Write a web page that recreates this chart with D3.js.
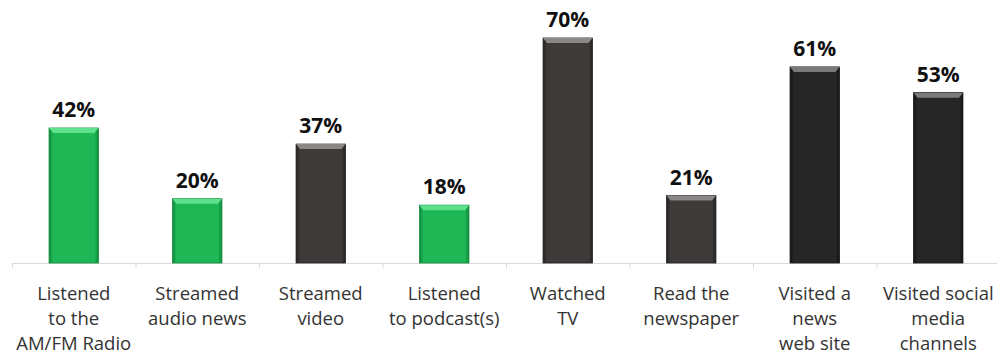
<!DOCTYPE html>
<html>
<head>
<meta charset="utf-8">
<script src="https://cdn.jsdelivr.net/npm/d3@7/dist/d3.min.js"></script>
<style>
  body { margin: 0; background: #fff; }
  svg { display: block; }
</style>
</head>
<body>
<div id="chart"></div>
<script>
// chart data
const categories = [
  ['Listened', 'to the', 'AM/FM Radio'],
  ['Streamed', 'audio news'],
  ['Streamed', 'video'],
  ['Listened', 'to podcast(s)'],
  ['Watched', 'TV'],
  ['Read the', 'newspaper'],
  ['Visited a', 'news', 'web site'],
  ['Visited social', 'media', 'channels']
];
const values = [42, 20, 37, 18, 70, 21, 61, 53];
const groups = ['audio', 'audio', 'print', 'audio', 'print', 'print', 'web', 'web'];

const palette = {
  audio: { base: '#1fb655', light: '#5fe08c', dark: '#0f8a3a' },
  print: { base: '#3d3a39', light: '#8a8786', dark: '#242221' },
  web:   { base: '#262626', light: '#7a7a7a', dark: '#141414' }
};

const width = 997, height = 360;
const margin = { top: 10, right: 0, bottom: 97, left: 12 };

const svg = d3.select('#chart').append('svg')
  .attr('width', width)
  .attr('height', height);

const defs = svg.append('defs');
Object.keys(palette).forEach(k => {
  const c = palette[k];
  const g = defs.append('linearGradient').attr('id', 'grad-' + k)
    .attr('x1', 0).attr('x2', 1).attr('y1', 0).attr('y2', 0);
  g.append('stop').attr('offset', '0%').attr('stop-color', c.dark);
  g.append('stop').attr('offset', '8%').attr('stop-color', c.base);
  g.append('stop').attr('offset', '92%').attr('stop-color', c.base);
  g.append('stop').attr('offset', '100%').attr('stop-color', c.dark);
});

const x = d3.scaleBand()
  .domain(d3.range(categories.length))
  .range([margin.left, width - margin.right + 3])
  .paddingInner(0.6)
  .paddingOuter(0.3);

const baseY = height - margin.bottom;
const y = d3.scaleLinear()
  .domain([0, 70])
  .range([baseY, 38]);

// axis line with ticks between categories
const step = x.step();
const axis = svg.append('g');
axis.append('line')
  .attr('x1', margin.left).attr('x2', width)
  .attr('y1', baseY + 0.5).attr('y2', baseY + 0.5)
  .attr('stroke', '#d9d9d9').attr('stroke-width', 1);
axis.selectAll('line.tick')
  .data(d3.range(categories.length + 1))
  .enter().append('line')
  .attr('class', 'tick')
  .attr('x1', i => margin.left + i * step + 0.5)
  .attr('x2', i => margin.left + i * step + 0.5)
  .attr('y1', baseY)
  .attr('y2', baseY + 5)
  .attr('stroke', '#d9d9d9');

// bars
const bars = svg.append('g').selectAll('g.bar')
  .data(values)
  .enter().append('g')
  .attr('class', 'bar');

bars.append('rect')
  .attr('x', (d, i) => x(i))
  .attr('y', d => y(d))
  .attr('width', x.bandwidth())
  .attr('height', d => baseY - y(d))
  .attr('fill', (d, i) => 'url(#grad-' + groups[i] + ')')
  .attr('stroke', (d, i) => palette[groups[i]].dark)
  .attr('stroke-width', 0.8);

// bevel highlight on top
bars.append('path')
  .attr('d', (d, i) => {
    const x0 = x(i), x1 = x(i) + x.bandwidth(), t = y(d);
    return `M${x0},${t} L${x1},${t} L${x1 - 4},${t + 5} L${x0 + 4},${t + 5} Z`;
  })
  .attr('fill', (d, i) => palette[groups[i]].light);

// value labels
svg.append('g').selectAll('text')
  .data(values)
  .enter().append('text')
  .attr('x', (d, i) => x(i) + x.bandwidth() / 2)
  .attr('y', d => y(d) - 11)
  .attr('text-anchor', 'middle')
  .attr('font-family', '"Open Sans", "Liberation Sans", sans-serif')
  .attr('font-weight', 'bold')
  .attr('font-size', 21)
  .attr('fill', '#111')
  .text(d => d + '%');

// category labels
const labels = svg.append('g').selectAll('text')
  .data(categories)
  .enter().append('text')
  .attr('x', (d, i) => x(i) + x.bandwidth() / 2)
  .attr('y', baseY + 37)
  .attr('text-anchor', 'middle')
  .attr('font-family', '"Open Sans", "Liberation Sans", sans-serif')
  .attr('font-size', 18.5)
  .attr('fill', '#333');

labels.selectAll('tspan')
  .data(d => d)
  .enter().append('tspan')
  .attr('x', function() { return d3.select(this.parentNode).attr('x'); })
  .attr('dy', (d, i) => i === 0 ? 0 : 25)
  .text(d => d);
</script>
</body>
</html>
